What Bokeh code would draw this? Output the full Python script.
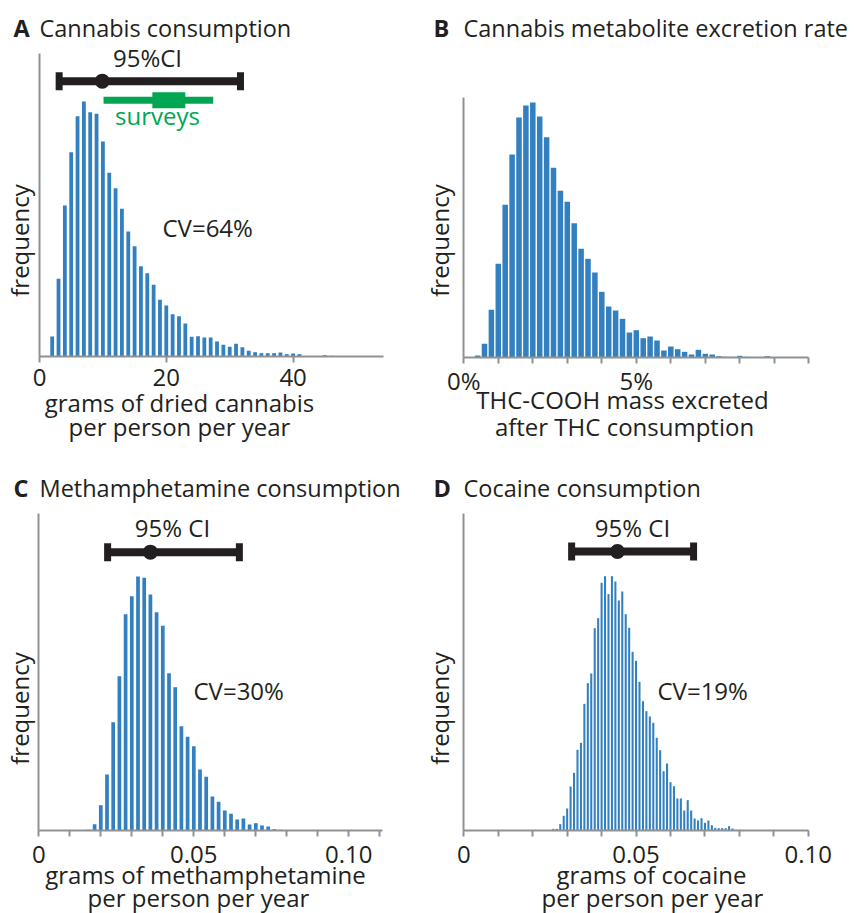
import math
from bokeh.plotting import figure
from bokeh.models import Range1d, FixedTicker, Label
from bokeh.layouts import column, row
from bokeh.embed import file_html
from bokeh.resources import INLINE

FONT = "Open Sans"
TXT = "#231f20"
BLUE = "#3380c0"
GRAY = "#8f9193"
GREEN = "#00a651"
FS = "24px"
TITLE_FS = "23.5px"
BASE_FIX = 10   # pixels between Bokeh's label anchor and the glyph baseline
SPLIT = 415     # page x where the right-hand column starts

# ---------------- data ----------------
cannabis_grams = [2, 3, 4, 5, 6, 7, 8, 9, 10, 11, 12, 13, 14, 15, 16, 17, 18, 19, 20, 21,
                  22, 23, 24, 25, 26, 27, 28, 29, 30, 31, 32, 33, 34, 35, 36, 37, 38, 39, 40, 41,
                  42, 43, 44, 45, 46]
cannabis_freq = [60, 233, 453, 613, 721, 765, 733, 728, 645, 551, 505, 443, 375, 331, 271, 250,
                 215, 170, 153, 127, 121, 99, 59, 61, 57, 57, 45, 35, 29, 38, 28, 17, 13, 10,
                 10, 10, 12, 7, 9, 7, 0, 0, 0, 4, 2]
cannabis_ci = [3.1, 9.9, 31.7]               # low, median, high
cannabis_surveys = [10.1, 17.8, 23.0, 27.4]  # outer low, inner low, inner high, outer high

excretion_pct = [0.4, 0.6, 0.8, 1.0, 1.2, 1.4, 1.6, 1.8, 2.0, 2.2, 2.4, 2.6, 2.8, 3.0, 3.2,
                 3.4, 3.6, 3.8, 4.0, 4.2, 4.4, 4.6, 4.8, 5.0, 5.2, 5.4, 5.6, 5.8, 6.0, 6.2,
                 6.4, 6.6, 6.8, 7.0, 7.2, 7.4, 7.6, 7.8, 8.0, 8.2, 8.4, 8.6, 8.8]
excretion_freq = [6, 41, 143, 281, 458, 609, 720, 756, 765, 723, 661, 569, 500, 467, 403, 326,
                  296, 255, 197, 153, 141, 116, 75, 82, 58, 63, 51, 21, 33, 25, 17, 9, 23, 11,
                  9, 4, 2, 2, 5, 2, 0, 0, 4]

meth_grams = [0.016, 0.018, 0.020, 0.022, 0.024, 0.026, 0.028, 0.030, 0.032, 0.034, 0.036,
              0.038, 0.040, 0.042, 0.044, 0.046, 0.048, 0.050, 0.052, 0.054, 0.056, 0.058,
              0.060, 0.062, 0.064, 0.066, 0.068, 0.070, 0.072, 0.074, 0.076, 0.078, 0.080]
meth_freq = [2, 19, 76, 168, 325, 463, 649, 703, 762, 758, 708, 655, 614, 472, 430, 313, 281,
             253, 183, 161, 102, 86, 60, 50, 33, 36, 18, 22, 15, 12, 4, 2, 1]
meth_ci = [0.0222, 0.0360, 0.0647]

coca_grams = [0.026, 0.027, 0.028, 0.029, 0.030, 0.031, 0.032, 0.033, 0.034, 0.035, 0.036,
              0.037, 0.038, 0.039, 0.040, 0.041, 0.042, 0.043, 0.044, 0.045, 0.046, 0.047,
              0.048, 0.049, 0.050, 0.051, 0.052, 0.053, 0.054, 0.055, 0.056, 0.057, 0.058,
              0.059, 0.060, 0.061, 0.062, 0.063, 0.064, 0.065, 0.066, 0.067, 0.068, 0.069,
              0.070, 0.071, 0.072, 0.073, 0.074, 0.075, 0.076, 0.077, 0.078, 0.079, 0.080,
              0.081]
coca_freq = [5, 5, 19, 44, 66, 132, 173, 242, 263, 380, 442, 471, 607, 637, 743, 763, 709, 763,
             747, 690, 717, 649, 608, 536, 509, 446, 388, 358, 342, 323, 278, 241, 178, 201,
             145, 133, 96, 96, 60, 91, 60, 36, 30, 37, 23, 30, 16, 8, 7, 7, 7, 13, 6, 2, 2, 1]
coca_ci = [0.0313, 0.0446, 0.0667]


class Panel:
    """A figure whose frame fills the whole canvas; axes are pinned at data zero."""

    def __init__(self, left, top, w, h, ox, oy, xscale, xbounds, ybounds,
                 major, minor, overrides, standoff):
        self.left, self.top, self.w, self.h = left, top, w, h
        xr = ((left - ox) / xscale, (left + w - ox) / xscale)
        yr = (-(top + h - oy) * 3, (oy - top) * 3)
        p = figure(width=w, height=h, output_backend="svg", toolbar_location=None,
                   x_range=Range1d(*xr), y_range=Range1d(*yr),
                   min_border_left=0, min_border_right=0, min_border_top=0,
                   min_border_bottom=0)
        p.outline_line_color = None
        p.xgrid.visible = False
        p.ygrid.visible = False
        p.background_fill_color = "white"
        p.border_fill_color = "white"
        xa, ya = p.xaxis[0], p.yaxis[0]
        xa.ticker = FixedTicker(ticks=major, minor_ticks=minor)
        xa.major_label_overrides = overrides
        xa.fixed_location = 0
        xa.bounds = xbounds
        ya.ticker = FixedTicker(ticks=[])
        ya.fixed_location = 0
        ya.bounds = ybounds
        for ax in (xa, ya):
            ax.axis_line_color = GRAY
            ax.axis_line_width = 2
            ax.major_tick_line_color = GRAY
            ax.major_tick_line_width = 2
            ax.minor_tick_line_color = GRAY
            ax.minor_tick_line_width = 2
            ax.major_tick_in = 0
            ax.major_tick_out = 6
            ax.minor_tick_in = 0
            ax.minor_tick_out = 6
            ax.major_label_text_font = FONT
            ax.major_label_text_font_size = FS
            ax.major_label_text_color = TXT
            ax.major_label_standoff = standoff
        self.p = p

    def text(self, x, y, text, align="left", color=TXT, bold=False, vertical=False,
             size=FS):
        if vertical:
            x -= BASE_FIX
        else:
            y -= BASE_FIX
        self.p.add_layout(Label(x=x - self.left, y=self.top + self.h - y,
                                x_units="screen", y_units="screen",
                                text=text, text_font=FONT, text_font_size=size,
                                text_color=color, text_align=align,
                                text_baseline="alphabetic",
                                angle=math.pi / 2 if vertical else 0,
                                text_font_style="bold" if bold else "normal"))

    def ci(self, ci, yv):
        p = self.p
        p.segment(x0=[ci[0]], y0=[yv], x1=[ci[2]], y1=[yv], line_color=TXT, line_width=8)
        p.rect(x=[ci[0], ci[2]], y=[yv, yv], width=7, height=18, width_units="screen",
               height_units="screen", fill_color=TXT, line_color=None)
        p.scatter(x=[ci[1]], y=[yv], size=15, fill_color=TXT, line_color=None)


# ---------------- Panel A ----------------
A = Panel(0, 0, SPLIT, 470, 39, 356, 6.34, (0, 54.3), (0, 909),
          [0, 20, 40], [], {0: "0", 20: "20", 40: "40"}, 6)
A.p.vbar(x=cannabis_grams, top=cannabis_freq, width=0.6, fill_color=BLUE, line_color=None)
A.ci(cannabis_ci, 826)
A.p.segment(x0=[cannabis_surveys[0]], y0=[769], x1=[cannabis_surveys[3]], y1=[769],
            line_color=GREEN, line_width=7)
A.p.rect(x=[(cannabis_surveys[1] + cannabis_surveys[2]) / 2], y=[769],
         width=[cannabis_surveys[2] - cannabis_surveys[1]], height=16, height_units="screen",
         fill_color=GREEN, line_color=None)
A.text(13, 37, "A", bold=True, size=TITLE_FS)
A.text(39, 37, "Cannabis consumption", size=TITLE_FS)
A.text(147, 67, "95%CI", align="center")
A.text(157, 125, "surveys", align="center", color=GREEN)
A.text(162, 237, "CV=64%")
A.text(29, 240, "frequency", align="center", vertical=True)
A.text(179, 412, "grams of dried cannabis", align="center")
A.text(179, 436, "per person per year", align="center")

# ---------------- Panel B ----------------
B = Panel(SPLIT, 0, 854 - SPLIT, 470, 463.3, 357, 34.5, (0, 10), (0, 780),
          [0, 5], [1, 2, 3, 4, 6, 7, 8, 9, 10], {0: "0%", 5: "5%"}, 0)
B.p.vbar(x=excretion_pct, top=excretion_freq, width=0.16, fill_color=BLUE, line_color=None)
B.text(433, 37, "B", bold=True, size=TITLE_FS)
B.text(463, 37, "Cannabis metabolite excretion rate", size=TITLE_FS)
B.text(449, 240, "frequency", align="center", vertical=True)
B.text(622, 409, "THC-COOH mass excreted", align="center")
B.text(624, 436, "after THC consumption", align="center")

# ---------------- Panel C ----------------
C = Panel(0, 470, SPLIT, 443, 38.3, 830, 3100, (0, 0.111), (0, 951),
          [0, 0.05, 0.1], [0.01, 0.02, 0.03, 0.04, 0.06, 0.07, 0.08, 0.09, 0.11],
          {0: "0", 0.05: "0.05", 0.1: "0.10"}, 9)
C.p.vbar(x=meth_grams, top=meth_freq, width=0.0012, fill_color=BLUE, line_color=None)
C.ci(meth_ci, 835)
C.text(13, 497, "C", bold=True, size=TITLE_FS)
C.text(39, 497, "Methamphetamine consumption", size=TITLE_FS)
C.text(172, 537, "95% CI", align="center")
C.text(193, 700, "CV=30%")
C.text(29, 708, "frequency", align="center", vertical=True)
C.text(205, 884, "grams of methamphetamine", align="center")
C.text(198, 907, "per person per year", align="center")

# ---------------- Panel D ----------------
D = Panel(SPLIT, 470, 854 - SPLIT, 443, 463.3, 830, 3445, (0, 0.1), (0, 951),
          [0, 0.05, 0.1], [0.01, 0.02, 0.03, 0.04, 0.06, 0.07, 0.08, 0.09],
          {0: "0", 0.05: "0.05", 0.1: "0.10"}, 9)
D.p.vbar(x=coca_grams, top=coca_freq, width=0.0006, fill_color=BLUE, line_color=None)
D.ci(coca_ci, 837)
D.text(433, 497, "D", bold=True, size=TITLE_FS)
D.text(463, 497, "Cocaine consumption", size=TITLE_FS)
D.text(632, 537, "95% CI", align="center")
D.text(657, 700, "CV=19%")
D.text(449, 708, "frequency", align="center", vertical=True)
D.text(651, 884, "grams of cocaine", align="center")
D.text(652, 907, "per person per year", align="center")

layout = column(row(A.p, B.p), row(C.p, D.p))
open("out.html", "w").write(file_html(layout, INLINE))
